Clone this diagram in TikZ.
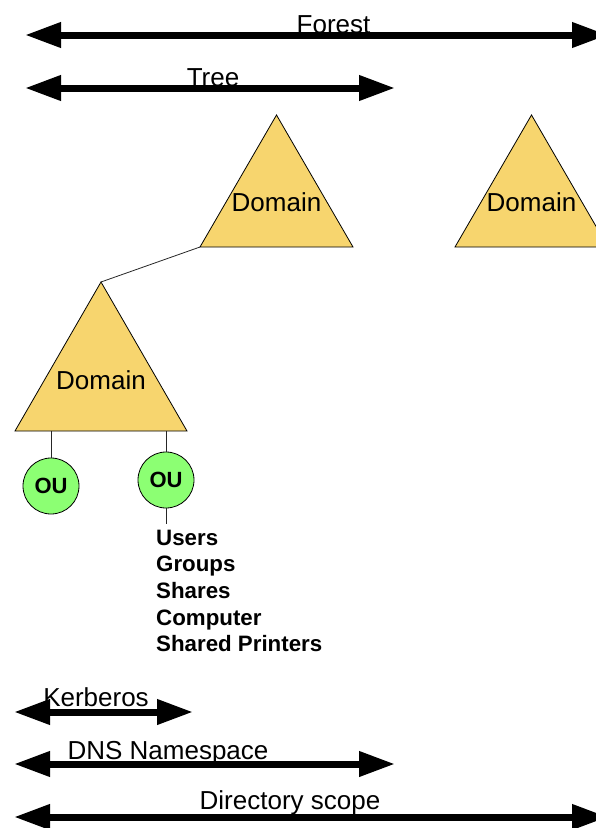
\documentclass[tikz,border=0pt]{standalone}
\usepackage{fontspec}
\setmainfont{Liberation Sans}
\usetikzlibrary{arrows.meta}

\definecolor{domainfill}{RGB}{247,213,110}
\definecolor{oufill}{RGB}{140,255,115}

\tikzset{
  scopebar/.style={line width=7pt,
    {Triangle[length=36pt,width=24pt]}-{Triangle[length=36pt,width=24pt]}},
  barlabel/.style={anchor=base, inner sep=0pt, font=\fontsize{26}{30}\selectfont},
  domainshape/.style={fill=domainfill, draw=black, line width=0.8pt, line join=miter},
  domaintext/.style={inner sep=0pt, font=\fontsize{26}{30}\selectfont},
  link/.style={draw=black!85, line width=0.8pt},
  oucircle/.style={circle, minimum size=56pt, inner sep=0pt, fill=oufill, draw=black,
    line width=0.8pt, font=\fontsize{22}{26}\bfseries\selectfont},
  itemtext/.style={anchor=base west, inner sep=0pt, font=\fontsize{22.3}{26}\bfseries\selectfont}
}

\begin{document}
\begin{tikzpicture}[x=1pt,y=-1pt]
  \useasboundingbox (0,0) rectangle (596,828);

  % scope bars at the top
  \coordinate (forestL) at (25,35);   \coordinate (forestR) at (608,35);
  \coordinate (treeL)   at (25,88);   \coordinate (treeR)   at (395,88);
  \draw[scopebar] (forestL) -- (forestR);
  \draw[scopebar] (treeL) -- (treeR);
  \node[barlabel] (forestlbl) at (333.5,33.5) {Forest};
  \node[barlabel] (treelbl)   at (213,86.5)   {Tree};

  % domains
  \coordinate (dAtop) at (276.5,115); \coordinate (dAbl) at (200,247); \coordinate (dAbr) at (353,247);
  \coordinate (dBtop) at (531.5,115); \coordinate (dBbl) at (455,247); \coordinate (dBbr) at (608,247);
  \coordinate (dCtop) at (101,282);   \coordinate (dCbl) at (15,431);  \coordinate (dCbr) at (187,431);

  \draw[link] (dAbl) -- (dCtop);

  \filldraw[domainshape] (dAtop) -- (dAbr) -- (dAbl) -- cycle;
  \filldraw[domainshape] (dBtop) -- (dBbr) -- (dBbl) -- cycle;
  \filldraw[domainshape] (dCtop) -- (dCbr) -- (dCbl) -- cycle;

  \node[domaintext] (domA) at (276.5,202) {Domain};
  \node[domaintext] (domB) at (531.5,202) {Domain};
  \node[domaintext] (domC) at (101,380.5) {Domain};

  % organisational units
  \node[oucircle] (ou1) at (51,486)  {OU};
  \node[oucircle] (ou2) at (166,480) {OU};
  \coordinate (ou1up) at (51,431);
  \coordinate (ou2up) at (166,431);
  \coordinate (listtop) at (166,524);
  \draw[link] (ou1up) -- (ou1.north);
  \draw[link] (ou2up) -- (ou2.north);
  \draw[link] (ou2.south) -- (listtop);

  \node[itemtext] (it1) at (156,545)   {Users};
  \node[itemtext] (it2) at (156,571.7) {Groups};
  \node[itemtext] (it3) at (156,598.4) {Shares};
  \node[itemtext] (it4) at (156,625.1) {Computer};
  \node[itemtext] (it5) at (156,651.8) {Shared Printers};

  % scope bars at the bottom
  \coordinate (kerbL) at (14,712);  \coordinate (kerbR) at (193,712);
  \coordinate (dnsL)  at (14,764);  \coordinate (dnsR)  at (395,764);
  \coordinate (dirL)  at (14,817);  \coordinate (dirR)  at (608,817);
  \draw[scopebar] (kerbL) -- (kerbR);
  \draw[scopebar] (dnsL) -- (dnsR);
  \draw[scopebar] (dirL) -- (dirR);
  \node[barlabel] (kerblbl) at (96,706.5)  {Kerberos};
  \node[barlabel] (dnslbl)  at (168,759.5) {DNS Namespace};
  \node[barlabel] (dirlbl)  at (290,809.5) {Directory scope};
\end{tikzpicture}
\end{document}
